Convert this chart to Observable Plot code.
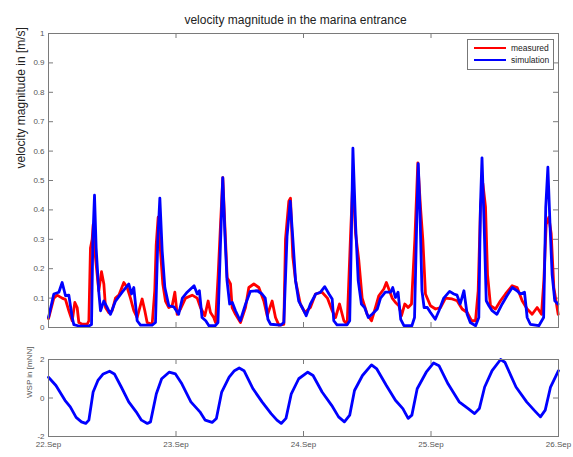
<!DOCTYPE html>
<html><head><meta charset="utf-8">
<script src="https://cdn.jsdelivr.net/npm/d3@7"></script>
<script src="https://cdn.jsdelivr.net/npm/@observablehq/plot@0.6"></script>
<style>
body{margin:0;background:#fff;font-family:"Liberation Sans",Arial,sans-serif;}
#wrap{position:relative;width:573px;height:457px;overflow:hidden;}
#wrap svg{display:block;}
.legend{position:absolute;left:467px;top:39px;width:85px;height:29px;border:1px solid #777;background:#fff;font-size:8.5px;color:#222;}
.legend .row{position:absolute;left:6px;height:10px;display:flex;align-items:center;}
.legend .sw{width:32px;height:2.8px;margin-right:5px;}
</style>
</head><body>
<div id="wrap"></div>
<script>
// ---- data (hours since 22 Sep 00:00) ----
const dayTicks = [0, 24, 48, 72, 96];
const dayLabels = ["22.Sep", "23.Sep", "24.Sep", "25.Sep", "26.Sep"];
const velTicks = [0, 0.1, 0.2, 0.3, 0.4, 0.5, 0.6, 0.7, 0.8, 0.9, 1];
const wspTicks = [-2, 0, 2];
const seriesNames = ["measured", "simulation"];
const seriesColors = ["#ff0000", "#0000ff"];

const measuredHours = [0,1.0,1.63,2.57,3.2,3.83,4.46,4.96,5.4,5.71,6.34,7.28,7.6,7.9,8.22,8.41,8.72,9.16,9.47,9.98,10.42,10.73,11.36,11.98,12.61,13.24,14.18,14.81,15.43,16.06,16.69,17.63,18.13,18.57,19.51,20.0,20.27,20.64,21.08,21.52,22.02,22.65,23.28,23.78,24.22,24.85,25.79,27.04,27.99,28.61,29.43,30.05,30.49,31.11,31.44,31.94,32.38,32.81,33.19,33.63,34.26,34.57,35.2,36.14,37.08,37.71,38.65,39.59,40.53,41.16,42.1,42.73,43.36,44.3,44.61,45.24,45.55,45.99,46.5,47.4,48.25,49.3,50.26,51.5,52.5,53.4,54.03,54.78,55.6,56.22,56.85,57.28,57.8,58.4,59.04,59.98,60.8,61.55,62.18,63.12,63.6,64.06,64.69,65.32,65.95,66.45,67.07,67.7,68.33,68.96,69.52,70.02,70.46,70.96,71.9,72.85,73.79,74.73,75.98,76.92,77.86,78.81,79.62,80.38,80.88,81.32,81.76,82.26,82.64,83.2,84.14,85.08,86.02,87.28,88.22,89.16,90.1,91.04,91.98,92.8,93.24,93.68,94.18,94.62,95.12,95.94];
const measured = [0.03,0.10,0.11,0.10,0.095,0.057,0.023,0.085,0.068,0.017,0.011,0.011,0.023,0.27,0.30,0.35,0.26,0.18,0.125,0.19,0.148,0.068,0.05,0.057,0.10,0.11,0.153,0.136,0.10,0.057,0.034,0.097,0.057,0.017,0.011,0.125,0.28,0.375,0.26,0.148,0.09,0.068,0.074,0.12,0.045,0.063,0.10,0.11,0.10,0.068,0.040,0.09,0.051,0.034,0.017,0.18,0.35,0.51,0.35,0.17,0.148,0.068,0.045,0.017,0.068,0.136,0.148,0.136,0.09,0.040,0.09,0.034,0.008,0.011,0.30,0.43,0.44,0.24,0.16,0.080,0.051,0.068,0.114,0.12,0.10,0.057,0.034,0.08,0.023,0.011,0.31,0.50,0.32,0.23,0.10,0.045,0.023,0.068,0.108,0.131,0.153,0.131,0.10,0.085,0.074,0.040,0.08,0.068,0.08,0.30,0.56,0.41,0.30,0.114,0.074,0.063,0.068,0.10,0.097,0.091,0.063,0.051,0.023,0.023,0.125,0.41,0.49,0.41,0.18,0.074,0.063,0.091,0.114,0.142,0.136,0.091,0.063,0.045,0.068,0.045,0.159,0.35,0.375,0.32,0.136,0.045];

const simulationHours = [0,1.0,1.95,2.57,3.2,3.83,4.46,4.77,5.71,7.6,8.1,8.35,8.66,8.97,9.47,9.79,10.42,11.04,11.67,12.61,13.87,15.12,15.62,16.06,16.69,17.32,19.5,20.14,20.58,20.96,21.4,21.9,22.65,23.6,24.5,25.2,26.1,27.4,28.0,28.4,28.9,29.6,30.2,31.4,31.9,32.4,32.8,33.2,33.6,34.1,34.6,35.2,36.1,37.1,38.0,39.3,40.2,40.8,41.3,41.8,43.7,44.3,44.9,45.5,46.0,46.5,47.1,47.9,48.5,49.3,50.3,51.2,52.0,52.8,53.4,53.7,54.3,56.2,56.7,57.0,57.3,57.8,58.3,58.9,59.5,60.2,60.9,61.9,62.5,63.4,64.4,64.8,65.3,65.8,66.3,66.9,68.4,68.9,69.3,69.6,69.9,70.3,70.7,71.3,71.9,72.8,73.5,74.4,75.5,76.3,76.9,77.5,78.2,78.8,79.4,80.4,81.0,81.3,81.6,82.0,82.4,82.9,83.5,84.4,85.4,86.3,87.3,88.2,88.8,89.6,90.1,90.7,92.3,93.2,93.6,94.0,94.4,94.8,95.3,95.9];
const simulation = [0.034,0.114,0.12,0.153,0.108,0.11,0.034,0.01,0.005,0.005,0.01,0.30,0.45,0.27,0.12,0.057,0.09,0.068,0.045,0.09,0.12,0.148,0.114,0.136,0.023,0.008,0.008,0.017,0.30,0.44,0.26,0.136,0.074,0.07,0.045,0.10,0.12,0.142,0.114,0.125,0.034,0.023,0.006,0.006,0.017,0.30,0.51,0.32,0.16,0.08,0.085,0.057,0.023,0.08,0.123,0.125,0.114,0.10,0.028,0.011,0.008,0.017,0.31,0.43,0.30,0.16,0.09,0.063,0.040,0.08,0.114,0.12,0.139,0.114,0.097,0.023,0.009,0.009,0.023,0.30,0.61,0.35,0.16,0.08,0.068,0.034,0.045,0.063,0.10,0.12,0.12,0.136,0.102,0.12,0.028,0.006,0.006,0.034,0.35,0.557,0.41,0.125,0.068,0.068,0.051,0.028,0.057,0.10,0.123,0.114,0.11,0.080,0.125,0.045,0.017,0.006,0.034,0.41,0.577,0.35,0.091,0.074,0.057,0.045,0.080,0.108,0.136,0.125,0.114,0.12,0.034,0.011,0.006,0.034,0.41,0.545,0.35,0.18,0.091,0.080];

const wspHours = [0,1.4,3.1,4.1,5.2,6.2,7.0,7.6,8.4,9.3,10.3,11.5,12.4,13.7,15.1,16.5,17.5,18.6,19.2,20.3,21.3,22.7,23.9,25.1,26.8,28.5,29.5,30.8,31.6,32.6,34.0,35.0,35.9,36.8,38.5,40.2,41.9,43.0,43.8,44.7,45.7,47.1,48.8,49.8,51.5,53.3,54.6,55.7,56.7,57.6,59.1,60.8,61.8,63.6,65.3,66.7,67.7,68.4,69.4,71.1,72.5,73.5,75.2,77.3,79.0,80.2,81.1,82.1,83.5,85.1,85.9,88.0,90.0,91.4,92.6,93.5,94.5,96];
const wsp = [1.08,0.65,-0.12,-0.46,-1.01,-1.24,-1.32,-1.15,0.31,0.91,1.25,1.39,1.25,0.57,-0.2,-0.72,-1.15,-1.32,-1.24,0.22,1.0,1.34,1.25,0.74,-0.2,-0.72,-1.15,-1.27,-1.06,0.31,1.08,1.42,1.56,1.42,0.48,-0.2,-0.81,-1.15,-1.32,-1.06,0.22,1.0,1.34,1.17,0.31,-0.38,-0.98,-1.24,-0.89,0.39,1.17,1.72,1.51,0.65,-0.12,-0.55,-1.06,-0.89,0.48,1.34,1.82,1.68,0.74,-0.2,-0.55,-0.81,-0.55,0.57,1.42,2.0,1.86,0.57,-0.2,-0.63,-0.98,-0.63,0.57,1.42];

const measuredData = measuredHours.map((h, i) => ({h, v: measured[i]}));
const simulationData = simulationHours.map((h, i) => ({h, v: simulation[i]}));
const wspData = wspHours.map((h, i) => ({h, v: wsp[i]}));

const FONT = "'Liberation Sans', Arial, sans-serif";
const AX = "#7a7a7a";
const TXT = "#555";
const LW = 2.8;

const topPlot = Plot.plot({
  width: 573, height: 340,
  marginLeft: 48, marginRight: 15, marginTop: 33, marginBottom: 13,
  style: {fontFamily: FONT, background: "white", overflow: "visible"},
  x: {domain: [0, 96], axis: null},
  y: {domain: [0, 1], axis: null},
  marks: [
    Plot.ruleY(velTicks, {y: d => d, insetRight: 505, stroke: AX}),
    Plot.ruleY(velTicks, {y: d => d, insetLeft: 505, stroke: AX}),
    Plot.ruleX(dayTicks, {x: d => d, insetBottom: 289, stroke: AX}),
    Plot.ruleX(dayTicks, {x: d => d, insetTop: 289, stroke: AX}),
    Plot.axisY(velTicks, {tickSize: 0, tickPadding: 4, fontSize: 8, color: TXT, label: null, tickFormat: d => String(d)}),
    Plot.line(measuredData, {x: "h", y: "v", stroke: seriesColors[0], strokeWidth: LW, strokeLinejoin: "round", strokeLinecap: "round"}),
    Plot.line(simulationData, {x: "h", y: "v", stroke: seriesColors[1], strokeWidth: LW, strokeLinejoin: "round", strokeLinecap: "round"}),
    Plot.frame({stroke: AX}),
    Plot.text(["velocity magnitude in the marina entrance"], {frameAnchor: "top", lineAnchor: "middle", dy: -13, dx: -8, fontSize: 12, fill: "#222"}),
    Plot.text(["velocity magnitude in [m/s]"], {frameAnchor: "left", lineAnchor: "middle", rotate: -90, dx: -27, dy: -12, fontSize: 12, fill: "#222"})
  ]
});

const bottomPlot = Plot.plot({
  width: 573, height: 117,
  marginLeft: 48, marginRight: 15, marginTop: 19, marginBottom: 21,
  style: {fontFamily: FONT, background: "white", overflow: "visible"},
  x: {domain: [0, 96], axis: null},
  y: {domain: [-2, 2], axis: null},
  marks: [
    Plot.ruleY(wspTicks, {y: d => d, insetRight: 505, stroke: AX}),
    Plot.ruleY(wspTicks, {y: d => d, insetLeft: 505, stroke: AX}),
    Plot.ruleX(dayTicks, {x: d => d, insetBottom: 72, stroke: AX}),
    Plot.ruleX(dayTicks, {x: d => d, insetTop: 72, stroke: AX}),
    Plot.axisY(wspTicks, {tickSize: 0, tickPadding: 4, fontSize: 8, color: TXT, label: null, tickFormat: d => String(d)}),
    Plot.axisX(dayTicks, {tickSize: 0, tickPadding: 5, fontSize: 8, color: TXT, label: null, tickFormat: (d, i) => dayLabels[i]}),
    Plot.line(wspData, {x: "h", y: "v", stroke: seriesColors[1], strokeWidth: LW, strokeLinejoin: "round", strokeLinecap: "round"}),
    Plot.frame({stroke: AX}),
    Plot.text(["WSP in [mNN]"], {frameAnchor: "left", lineAnchor: "middle", rotate: -90, dx: -19, fontSize: 8, fill: TXT})
  ]
});

const wrap = document.getElementById("wrap");
wrap.appendChild(topPlot);
wrap.appendChild(bottomPlot);

const legend = document.createElement("div");
legend.className = "legend";
seriesNames.forEach((name, i) => {
  const row = document.createElement("div");
  row.className = "row";
  row.style.top = (3 + i * 12) + "px";
  const sw = document.createElement("div");
  sw.className = "sw";
  sw.style.background = seriesColors[i];
  const label = document.createElement("span");
  label.textContent = name;
  row.appendChild(sw);
  row.appendChild(label);
  legend.appendChild(row);
});
wrap.appendChild(legend);
</script>
</body></html>
